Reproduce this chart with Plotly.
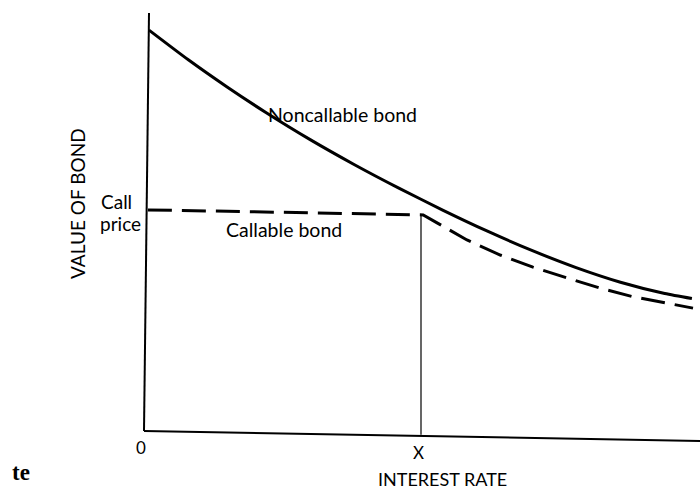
import plotly.graph_objects as go

W, H = 700, 490
# data-unit scale: origin at pixel (144, 431)
X0_PX, Y0_PX = 144, 431
SX, SY = 55.4, 41.8

# Noncallable bond value vs interest rate
noncall_x = [0.09, 0.8, 1.5, 2.2, 3.0, 3.8, 4.6, 5.4, 6.2, 7.0, 7.8, 8.6, 9.4, 9.89]
noncall_y = [9.59, 8.88, 8.23, 7.62, 6.97, 6.37, 5.81, 5.28, 4.78, 4.32, 3.91, 3.56, 3.29, 3.17]

# Callable bond: capped at call price up to rate X
call_x = [0.07, 5.04, 5.29, 5.83, 6.43, 7.02, 7.64, 8.23, 8.83, 9.91]
call_y = [5.29, 5.17, 4.98, 4.57, 4.21, 3.92, 3.66, 3.42, 3.21, 2.94]

X_RATE = 5.0
X_LINE_Y = [-0.09, 5.17]

x_range = [-X0_PX / SX, (W - X0_PX) / SX]
y_range = [-(H - Y0_PX) / SY, Y0_PX / SY]

FONT = "Lato"

fig = go.Figure()
fig.add_trace(go.Scatter(x=noncall_x, y=noncall_y, mode="lines",
                         line=dict(color="black", width=3, shape="spline", smoothing=0.6),
                         showlegend=False, hoverinfo="skip"))
fig.add_trace(go.Scatter(x=call_x, y=call_y, mode="lines",
                         line=dict(color="black", width=3, dash="24px,10px"),
                         showlegend=False, hoverinfo="skip"))
fig.add_trace(go.Scatter(x=[X_RATE, X_RATE], y=X_LINE_Y, mode="lines",
                         line=dict(color="black", width=1.2),
                         showlegend=False, hoverinfo="skip"))

# axes (slightly skewed as in the scan)
fig.add_shape(type="line", x0=(149 - X0_PX) / SX, y0=(Y0_PX - 13) / SY, x1=0, y1=0,
              line=dict(color="black", width=2))
fig.add_shape(type="line", x0=0, y0=0, x1=x_range[1], y1=(Y0_PX - 441) / SY,
              line=dict(color="black", width=2))


def px(xp, yp):
    return xp / W, 1 - yp / H


def ann(text, xp, yp, size=16, xanchor="center", yanchor="middle", textangle=0, family=FONT, align="center"):
    x, y = px(xp, yp)
    fig.add_annotation(text=text, x=x, y=y, xref="paper", yref="paper", showarrow=False,
                       xanchor=xanchor, yanchor=yanchor, textangle=textangle, align=align,
                       borderpad=0,
                       font=dict(family=family, size=size, color="black"))


ann("Noncallable bond", 267, 114, size=19.5, xanchor="left")
ann("Callable bond", 225, 229, size=19.5, xanchor="left")
ann("Call", 100, 201, size=19, xanchor="left")
ann("price", 99, 223, size=19, xanchor="left")
ann("VALUE OF BOND", 77, 204, size=19, textangle=-90)
ann("0", 141, 447, size=17)
ann("X", 418, 452, size=17)
ann("INTEREST RATE", 442, 491.5, size=18, yanchor="bottom")
ann("<b>te</b>", 11, 472, size=23, xanchor="left", family="Liberation Serif")

fig.update_layout(
    width=W, height=H,
    margin=dict(l=0, r=0, t=0, b=0),
    paper_bgcolor="white", plot_bgcolor="white",
    xaxis=dict(range=x_range, visible=False, fixedrange=True),
    yaxis=dict(range=y_range, visible=False, fixedrange=True),
    showlegend=False,
)

fig.write_html("out.html", config={"displayModeBar": False},
               post_script="document.body.style.margin='0px';document.body.style.overflow='hidden';")
